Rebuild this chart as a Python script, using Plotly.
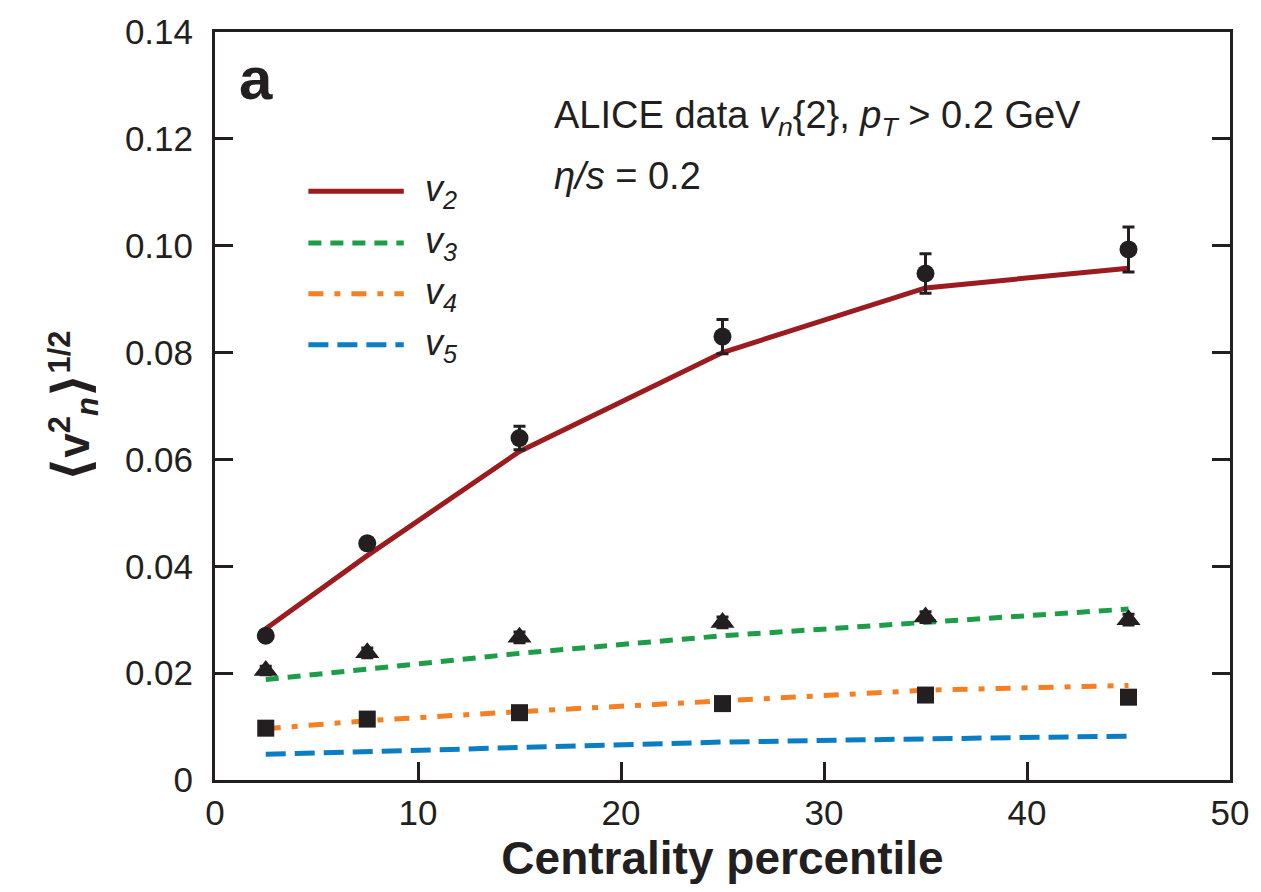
import plotly.graph_objects as go

# Centrality bins (percentile)
centrality = [2.5, 7.5, 15, 25, 35, 45]

# Hydro model curves (eta/s = 0.2)
v2_model = [0.0283, 0.0420, 0.0615, 0.0800, 0.0921, 0.0958]
v3_model = [0.0188, 0.0207, 0.0237, 0.0270, 0.0295, 0.0320]
v4_model = [0.0096, 0.0111, 0.0128, 0.0149, 0.0168, 0.0177]
v5_model = [0.0048, 0.0053, 0.0061, 0.0071, 0.0077, 0.0082]

# ALICE data v_n{2}
v2_data = [0.0270, 0.0443, 0.0640, 0.0830, 0.0948, 0.0993]
v2_err = [0.0005, 0.0010, 0.0022, 0.0032, 0.0037, 0.0042]
v3_data = [0.0205, 0.0238, 0.0267, 0.0295, 0.0305, 0.0300]
v3_err = [0.0008, 0.0009, 0.0010, 0.0010, 0.0010, 0.0010]
v4_data = [0.0097, 0.0114, 0.0126, 0.0143, 0.0159, 0.0155]

x_ticks = [0, 10, 20, 30, 40, 50]
y_ticks = [0, 0.02, 0.04, 0.06, 0.08, 0.10, 0.12, 0.14]
y_tick_labels = ["0", "0.02", "0.04", "0.06", "0.08", "0.10", "0.12", "0.14"]

legend_names = ["v<sub>2</sub>", "v<sub>3</sub>", "v<sub>4</sub>", "v<sub>5</sub>"]

C2, C3, C4, C5 = "#9b1b1f", "#1e9d49", "#f58024", "#0b7dc3"
INK = "#231f20"
FONT = "Liberation Sans"

fig = go.Figure()

styles = [
    (v2_model, C2, "solid", 5),
    (v3_model, C3, "13px,9px", 5),
    (v4_model, C4, "15px,11px,6px,11px", 5),
    (v5_model, C5, "20px,9px", 5),
]
for (vals, col, dash, w), name in zip(styles, legend_names):
    fig.add_trace(go.Scatter(x=centrality, y=vals, mode="lines",
                             line=dict(color=col, width=w, dash=dash),
                             name=name, showlegend=False))

fig.add_trace(go.Scatter(x=centrality, y=v2_data, mode="markers",
                         marker=dict(symbol="circle", size=18, color=INK),
                         error_y=dict(type="data", array=v2_err, color=INK,
                                      thickness=3, width=6),
                         showlegend=False))
fig.add_trace(go.Scatter(x=centrality, y=v3_data, mode="markers",
                         marker=dict(symbol="triangle-up", size=21, color=INK),
                         error_y=dict(type="data", array=v3_err, color=INK,
                                      thickness=3, width=6),
                         showlegend=False))
fig.add_trace(go.Scatter(x=centrality, y=v4_data, mode="markers",
                         marker=dict(symbol="square", size=17, color=INK),
                         showlegend=False))

# Hand-made legend (long line samples as in the original)
leg_y = [0.787, 0.718, 0.650, 0.582]
for (vals, col, dash, w), name, yy in zip(styles, legend_names, leg_y):
    fig.add_shape(type="line", xref="paper", yref="paper",
                  x0=0.092, x1=0.186, y0=yy, y1=yy,
                  line=dict(color=col, width=5, dash=dash))
    fig.add_annotation(xref="paper", yref="paper", x=0.205, y=yy,
                       xanchor="left", yanchor="middle", showarrow=False,
                       text="<i>" + name + "</i>",
                       font=dict(family=FONT, size=36, color=INK))

fig.add_annotation(xref="paper", yref="paper", x=0.332, y=0.885,
                   xanchor="left", yanchor="middle", showarrow=False,
                   text="ALICE data <i>v<sub>n</sub></i>{2}, <i>p<sub>T</sub></i> > 0.2 GeV",
                   font=dict(family=FONT, size=38, color=INK))
fig.add_annotation(xref="paper", yref="paper", x=0.332, y=0.807,
                   xanchor="left", yanchor="middle", showarrow=False,
                   text="<i>η/s</i> = 0.2",
                   font=dict(family=FONT, size=38, color=INK))
fig.add_annotation(xref="paper", yref="paper", x=0.022, y=0.938,
                   xanchor="left", yanchor="middle", showarrow=False,
                   text="<b>a</b>",
                   font=dict(family=FONT, size=60, color=INK))

fig.update_layout(
    width=1261, height=892,
    margin=dict(l=215, r=29, t=30, b=112),
    plot_bgcolor="white", paper_bgcolor="white",
    font=dict(family=FONT, size=34, color=INK),
)
fig.update_xaxes(range=[0, 50], tickvals=x_ticks, ticks="inside", ticklen=18,
                 tickwidth=3, tickcolor=INK, showline=True, linewidth=3,
                 linecolor=INK, mirror=True, showgrid=False, zeroline=False,
                 tickfont=dict(size=35),
                 title=dict(text="<b>Centrality percentile</b>",
                            font=dict(size=46), standoff=6))
fig.update_yaxes(range=[0, 0.14], tickvals=y_ticks, ticktext=y_tick_labels,
                 ticks="inside", ticklen=18, tickwidth=3, tickcolor=INK,
                 showline=True, linewidth=3, linecolor=INK, mirror="ticks",
                 showgrid=False, zeroline=False, tickfont=dict(size=35),
                 ticklabelstandoff=12,
                 title=dict(text="<b><span style='font-family:DejaVu Sans;font-size:52px'>⟨</span>v<sup>2</sup><sub><i>n</i></sub><span style='font-family:DejaVu Sans;font-size:52px'>⟩</span><sup>1/2</sup></b>",
                            font=dict(size=44), standoff=22))

fig.write_html("out.html")
